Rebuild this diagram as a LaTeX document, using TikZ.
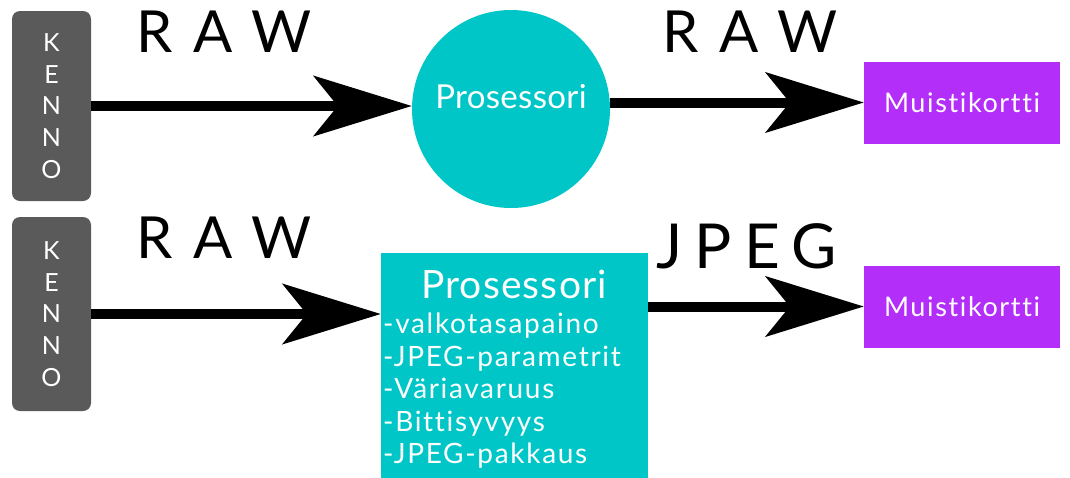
\documentclass[tikz,border=0pt]{standalone}
\usepackage{fontspec}
\setmainfont{Lato}[Ligatures=NoCommon]
\usetikzlibrary{arrows.meta}

\definecolor{kengray}{HTML}{5A5A5A}
\definecolor{proccyan}{HTML}{00C6C8}
\definecolor{mempurple}{HTML}{B42EFA}

\tikzset{
  kenbox/.style={fill=kengray, rounded corners=8pt, minimum width=79pt, minimum height=190pt,
    inner sep=0pt, text=white, align=center, font=\fontsize{25}{31.75}\selectfont},
  procbox/.style={fill=proccyan, inner sep=0pt},
  membox/.style={fill=mempurple, minimum width=196pt, minimum height=82pt, inner sep=0pt,
    text=white, font=\fontsize{27}{30}\selectfont\addfontfeature{LetterSpace=6}},
  bigarrow/.style={line width=10pt, -{Stealth[length=98pt, width=60pt, inset=24pt]}},
  spaced/.style={anchor=base west, inner sep=0pt, font=\fontsize{58}{60}\selectfont\addfontfeature{LetterSpace=36}}
}

\begin{document}
\begin{tikzpicture}[x=1pt, y=-1pt]
    \useasboundingbox (0,0) rectangle (1070,477);

    % sensor boxes
    \node[kenbox] (kenA) at (51.5,106) {K\\E\\N\\N\\O};
    \node[kenbox, minimum height=194pt] (kenB) at (51.5,314) {K\\E\\N\\N\\O};

    % processors
    \node[procbox, circle, minimum size=198pt] (procA) at (511,109) {};
    \node[white, anchor=base, inner sep=0pt, font=\fontsize{33}{36}\selectfont\addfontfeature{LetterSpace=1}] (procAtext) at (511,108) {Prosessori};
    \node[procbox, minimum width=267pt, minimum height=226pt] (procB) at (514.5,366) {};
    \node[white, anchor=base, inner sep=0pt, font=\fontsize{39}{42}\selectfont\addfontfeature{LetterSpace=3}] (procBtitle) at (514,298) {Prosessori};
    \node[white, anchor=north west, inner sep=0pt, align=left,
      font=\fontsize{28}{32.5}\selectfont\addfontfeature{LetterSpace=6}] (procBlist) at (383,313)
      {-valkotasapaino\\-JPEG-parametrit\\-Väriavaruus\\-Bittisyvyys\\-JPEG-pakkaus};

    % memory cards
    \node[membox] (memA) at (962,102.5) {Muistikortti};
    \node[membox] (memB) at (962,306.5) {Muistikortti};

    % format labels
    \node[spaced] (rawA) at (136,52) {RAW};
    \node[spaced] (rawB) at (662,52) {RAW};
    \node[spaced] (rawC) at (136,258) {RAW};
    \node[spaced, font=\fontsize{62}{64}\selectfont\addfontfeature{LetterSpace=20}] (jpeg) at (656,268) {JPEG};

    % arrows
    \draw[bigarrow] (kenA.east) -- (kenA.east -| procA.west);
    \draw[bigarrow] (memA.west -| procA.east) -- (memA.west);
    \draw[bigarrow] (kenB.east) -- (kenB.east -| procB.west);
    \draw[bigarrow] (memB.west -| procB.east) -- (memB.west);
\end{tikzpicture}
\end{document}
